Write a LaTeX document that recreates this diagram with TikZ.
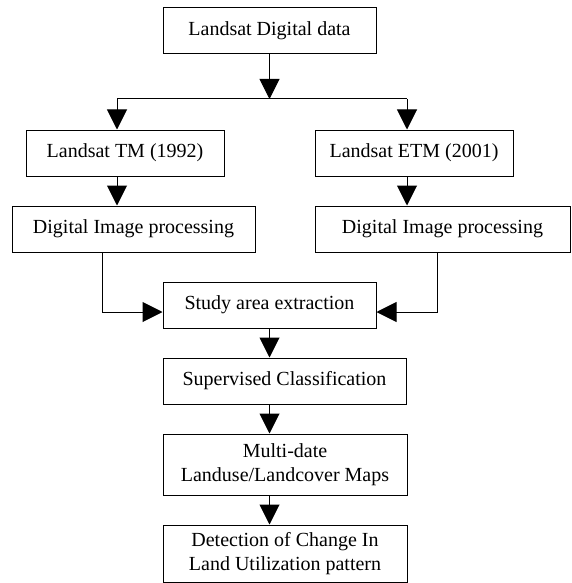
\documentclass[tikz,border=0pt]{standalone}
\usepackage{fontspec}
\setmainfont{Liberation Serif}
\usetikzlibrary{arrows.meta}

\tikzset{
  blk/.style={draw, line width=1pt, align=center, inner sep=0pt,
              font=\fontsize{20}{24}\selectfont},
  arr/.style={line width=1pt, -{Triangle[length=20pt,width=20pt]}}
}

\begin{document}
\begin{tikzpicture}[x=1pt,y=-1pt]
\useasboundingbox (0,0) rectangle (571,583);
%\fill [gray!15] (0,0) rectangle (571,583);
\node[blk, minimum width=213pt, minimum height=46pt] (data)   at (269.5,31)  {Landsat Digital data};
\node[blk, minimum width=198pt, minimum height=46pt] (tm)     at (125,153)   {Landsat TM (1992)};
\node[blk, minimum width=198pt, minimum height=46pt] (etm)    at (414,153)   {Landsat ETM (2001)};
\node[blk, minimum width=243pt, minimum height=46pt] (dipl)   at (133.5,229) {Digital Image processing};
\node[blk, minimum width=255pt, minimum height=46pt] (dipr)   at (442.5,229) {Digital Image processing};
\node[blk, minimum width=213pt, minimum height=46pt] (study)  at (269.5,305) {Study area extraction};
\node[blk, minimum width=243pt, minimum height=46pt] (sup)    at (284.5,381) {Supervised Classification};
\node[blk, minimum width=244pt, minimum height=61pt] (multi)  at (285,464.5)  {Multi-date\\Landuse/Landcover Maps};
\node[blk, minimum width=244pt, minimum height=57pt] (detect) at (285,553.5) {Detection of Change In\\Land Utilization pattern};

\coordinate (split) at (269.5,99);
\coordinate (jl) at (117,99);
\coordinate (jr) at (407,99);
\coordinate (ml) at (102,312);
\coordinate (mr) at (437,312);

\draw[arr] (data.south) -- (split);
\draw[line width=1pt] (jl) -- (jr);
\draw[arr] (jl) -- (jl |- tm.north);
\draw[arr] (jr) -- (jr |- etm.north);
\draw[arr] (jl |- tm.south) -- (jl |- dipl.north);
\draw[arr] (jr |- etm.south) -- (jr |- dipr.north);
\draw[arr] (ml |- dipl.south) -- (ml) -- (ml -| study.west);
\draw[arr] (mr |- dipr.south) -- (mr) -- (mr -| study.east);
\draw[arr] (study.south) -- (study.south |- sup.north);
\draw[arr] (study.south |- sup.south) -- (study.south |- multi.north);
\draw[arr] (study.south |- multi.south) -- (study.south |- detect.north);

\end{tikzpicture}
\end{document}
